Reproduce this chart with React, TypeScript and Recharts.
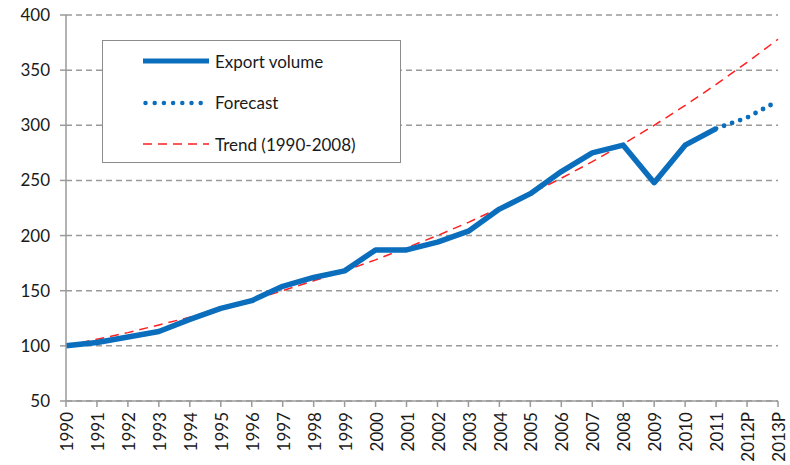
import { LineChart, Line, XAxis, YAxis, CartesianGrid } from "recharts"

const years = ["1990", "1991", "1992", "1993", "1994", "1995", "1996", "1997", "1998", "1999", "2000", "2001",
  "2002", "2003", "2004", "2005", "2006", "2007", "2008", "2009", "2010", "2011", "2012P", "2013P"]

const exportVolume = [100, 103, 108, 113, 124, 134, 141, 154, 162, 168, 187, 187,
  194, 204, 224, 238, 258, 275, 282, 248, 282, 297, null, null]

const forecast = [null, null, null, null, null, null, null, null, null, null, null, null,
  null, null, null, null, null, null, null, null, null, 297, 307, 322]

const trend = [100, 106, 112, 119, 126, 133, 141, 150, 159, 168, 178, 189,
  200, 212, 225, 238, 252, 267, 283, 300, 318, 337, 357, 378]

const yTicks = [50, 100, 150, 200, 250, 300, 350, 400]

const data = years.map((year, i) => ({
  year,
  exportVolume: exportVolume[i],
  forecast: forecast[i],
  trend: trend[i],
}))

const BLUE = "#0a6ebd"
const RED = "#ff2020"
const GREY = "#9a9a9a"
const FONT = "Lato, 'Open Sans', sans-serif"
const FS = 17

const XTick = (props: any) => {
  const { x, y, payload } = props
  return (
    <text
      x={x + 1}
      y={y + 3}
      transform={`rotate(-90, ${x + 1}, ${y + 3})`}
      textAnchor="end"
      dy="0.36em"
      fill="#1a1a1a"
      fontSize={FS}
      fontFamily={FONT}
    >
      {payload.value}
    </text>
  )
}

const legendRows = [
  { label: "Export volume", stroke: BLUE, width: 5, dash: undefined, cap: "butt" },
  { label: "Forecast", stroke: BLUE, width: 4.5, dash: "0 9.2", cap: "round" },
  { label: "Trend (1990-2008)", stroke: RED, width: 1.5, dash: "9 6", cap: "butt" },
]

export default function App() {
  return (
    <div style={{ position: "absolute", left: 0, top: 0, width: 790, height: 465, background: "#fff" }}>
      <LineChart width={790} height={465} data={data} margin={{ top: 15, right: 12, left: 0, bottom: 0 }}>
        <CartesianGrid vertical={false} stroke={GREY} strokeWidth={1.5} strokeDasharray="6 4" />
        <XAxis
          dataKey="year"
          interval={0}
          height={64}
          tick={<XTick />}
          tickSize={6}
          axisLine={{ stroke: GREY, strokeWidth: 1.5 }}
          tickLine={{ stroke: GREY, strokeWidth: 1.5 }}
        />
        <YAxis
          width={66}
          domain={[50, 400]}
          ticks={yTicks}
          interval={0}
          tickSize={6}
          tickMargin={10}
          axisLine={{ stroke: GREY, strokeWidth: 1.5 }}
          tickLine={{ stroke: GREY, strokeWidth: 1.5, strokeDasharray: "6 4" }}
          tick={{ fill: "#1a1a1a", fontSize: FS, fontFamily: FONT }}
        />
        <Line
          dataKey="trend"
          stroke={RED}
          strokeWidth={1.5}
          strokeDasharray="9 6"
          dot={false}
          isAnimationActive={false}
        />
        <Line
          dataKey="forecast"
          stroke={BLUE}
          strokeWidth={4.8}
          strokeDasharray="0 8.5"
          strokeLinecap="round"
          dot={false}
          isAnimationActive={false}
        />
        <Line
          dataKey="exportVolume"
          stroke={BLUE}
          strokeWidth={5.5}
          strokeLinejoin="round"
          dot={false}
          isAnimationActive={false}
        />
      </LineChart>
      <div
        style={{
          position: "absolute",
          left: 102,
          top: 40,
          width: 299,
          height: 123,
          border: "1.5px solid #8c8c8c",
          background: "#fff",
          boxSizing: "border-box",
        }}
      >
        {legendRows.map((r, i) => (
          <div
            key={r.label}
            style={{ position: "absolute", left: 40, top: 5 + i * 41.5, height: 30, display: "flex", alignItems: "center" }}
          >
            <svg width={66} height={10} style={{ display: "block" }}>
              <line
                x1={r.cap === "round" ? 2.5 : 0}
                y1={5}
                x2={66}
                y2={5}
                stroke={r.stroke}
                strokeWidth={r.width}
                strokeDasharray={r.dash}
                strokeLinecap={r.cap as any}
              />
            </svg>
            <span style={{ marginLeft: 6, fontFamily: FONT, fontSize: FS, color: "#1a1a1a", whiteSpace: "nowrap" }}>
              {r.label}
            </span>
          </div>
        ))}
      </div>
    </div>
  )
}
